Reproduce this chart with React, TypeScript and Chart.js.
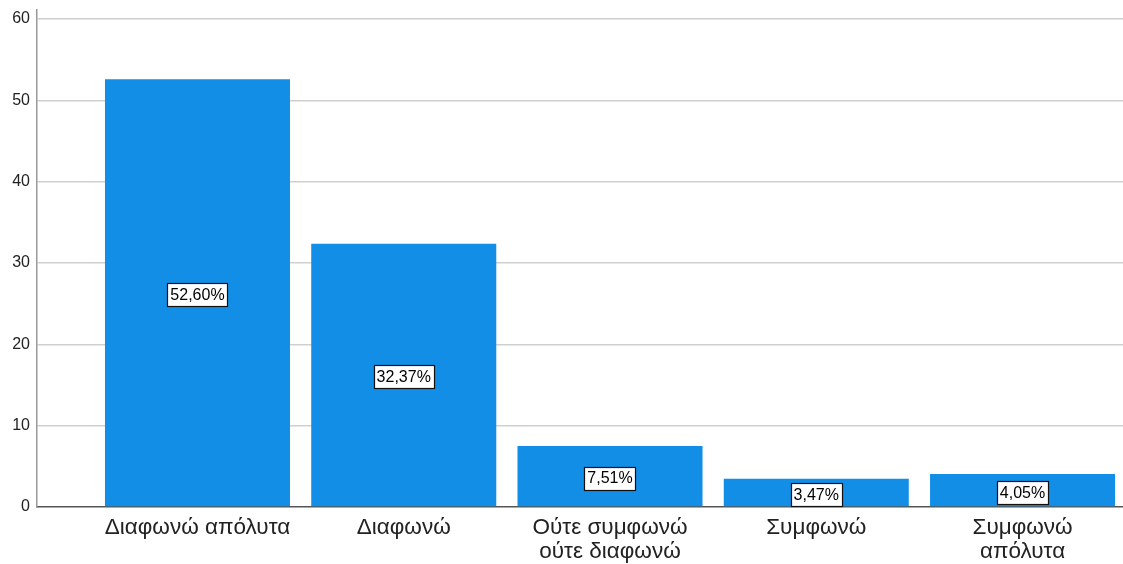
import React, { useEffect, useRef } from "react";
import { Chart, registerables } from "chart.js";

Chart.register(...registerables);

const categories: (string | string[])[] = [
  "Διαφωνώ απόλυτα",
  "Διαφωνώ",
  ["Ούτε συμφωνώ", "ούτε διαφωνώ"],
  "Συμφωνώ",
  ["Συμφωνώ", "απόλυτα"],
];
const values = [52.6, 32.37, 7.51, 3.47, 4.05];
const percentLabels = ["52,60%", "32,37%", "7,51%", "3,47%", "4,05%"];
const yTicks = [0, 10, 20, 30, 40, 50, 60];

const FONT = "'Liberation Sans', Arial, sans-serif";

const boxLabels = {
  id: "boxLabels",
  afterDatasetsDraw(chart: any) {
    const ctx = chart.ctx;
    const meta = chart.getDatasetMeta(0);
    ctx.save();
    ctx.font = `16px ${FONT}`;
    ctx.textAlign = "center";
    ctx.textBaseline = "middle";
    meta.data.forEach((bar: any, i: number) => {
      const text = percentLabels[i];
      const w = ctx.measureText(text).width + 6;
      const h = 23;
      const cx = bar.x;
      const cy = (bar.y + bar.base) / 2 + 2;
      ctx.fillStyle = "#ffffff";
      ctx.fillRect(Math.round(cx - w / 2), Math.round(cy - h / 2), Math.round(w), h);
      ctx.strokeStyle = "#111111";
      ctx.lineWidth = 1.2;
      ctx.strokeRect(Math.round(cx - w / 2) + 0.5, Math.round(cy - h / 2) + 0.5, Math.round(w), h);
      ctx.fillStyle = "#000000";
      ctx.fillText(text, cx, cy + 1);
    });
    ctx.restore();
  },
};

export default function App() {
  const ref = useRef<HTMLCanvasElement>(null);
  useEffect(() => {
    if (!ref.current) return;
    const chart = new Chart(ref.current, {
      type: "bar",
      data: {
        datasets: [
          {
            data: categories.map((_, i) => ({ x: i, y: values[i] })),
            backgroundColor: "#128ee6",
            borderWidth: 0,
            barPercentage: 0.897,
            categoryPercentage: 1,
          },
        ],
      },
      plugins: [boxLabels],
      options: {
        animation: false,
        responsive: false,
        maintainAspectRatio: false,
        layout: { padding: { top: 10, right: 0, left: 0, bottom: 0 } },
        plugins: {
          legend: { display: false },
          tooltip: { enabled: false },
        },
        scales: {
          x: {
            type: "linear",
            offset: false,
            min: -0.778,
            max: 4.487,
            afterFit: (s: any) => {
              s.height = 57;
              s.paddingLeft = 0;
              s.paddingRight = 0;
            },
            grid: { display: false, drawTicks: false, offset: false },
            border: { display: true, color: "#555555", width: 1.5 },
            ticks: {
              stepSize: 1,
              includeBounds: false,
              autoSkip: false,
              maxRotation: 0,
              minRotation: 0,
              padding: 9,
              color: "#222222",
              font: { family: FONT, size: 22.5, lineHeight: 1.05 },
              callback: (v: any) => {
                const n = Number(v);
                return Number.isInteger(n) && n >= 0 && n < categories.length
                  ? (categories[n] as any)
                  : "";
              },
            },
          },
          y: {
            type: "linear",
            min: 0,
            max: 61.1,
            afterFit: (s: any) => {
              s.width = 37;
              s.paddingTop = 0;
              s.paddingBottom = 0;
            },
            afterBuildTicks: (s: any) => {
              s.ticks = yTicks.map((v) => ({ value: v }));
            },
            grid: {
              drawTicks: false,
              lineWidth: 1.5,
              color: (c: any) => (c.tick && c.tick.value === 0 ? "rgba(0,0,0,0)" : "#cfcfcf"),
            },
            border: { display: true, color: "#9a9a9a", width: 1.5 },
            ticks: {
              padding: 7,
              color: "#222222",
              font: { family: FONT, size: 16 },
            },
          },
        },
      },
    } as any);
    return () => chart.destroy();
  }, []);
  return (
    <div style={{ position: "fixed", left: 0, top: 0, width: 1123, height: 564, background: "#fff" }}>
      <canvas ref={ref} width={1123} height={564} style={{ width: 1123, height: 564 }} />
    </div>
  );
}
